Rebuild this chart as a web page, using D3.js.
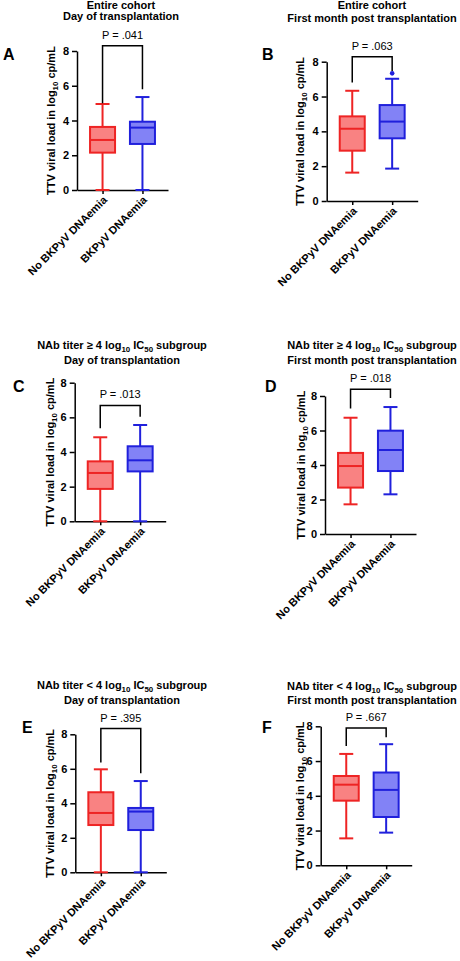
<!DOCTYPE html>
<html>
<head>
<meta charset="utf-8">
<script src="https://cdn.jsdelivr.net/npm/d3@7/dist/d3.min.js"></script>
<style>
    body { margin: 0; background: #fff; }
    svg text { font-family: "Liberation Sans", Arial, Helvetica, sans-serif; }
</style>
</head>
<body>
<div id="visDiv"></div>
<script>
    /* Data */
    const categories = ["No BKPyV DNAemia", "BKPyV DNAemia"];
    const yTicks = [0, 2, 4, 6, 8];
    const panelLetters = ["A", "B", "C", "D", "E", "F"];
    const titleLine1 = [
        "Entire cohort",
        "Entire cohort",
        "NAb titer ≥ 4 log_{10} IC_{50} subgroup",
        "NAb titer ≥ 4 log_{10} IC_{50} subgroup",
        "NAb titer < 4 log_{10} IC_{50} subgroup",
        "NAb titer < 4 log_{10} IC_{50} subgroup"
    ];
    const titleLine2 = [
        "Day of transplantation",
        "First month post transplantation",
        "Day of transplantation",
        "First month post transplantation",
        "Day of transplantation",
        "First month post transplantation"
    ];
    const yLabel = "TTV viral load in log_{10} cp/mL";
    const pValues = [".041", ".063", ".013", ".018", ".395", ".667"];
    // [min, q1, median, q3, max]
    const noBkStats = [
        [0, 2.15, 2.88, 3.63, 4.95],
        [1.63, 2.89, 4.15, 4.86, 6.33],
        [0, 1.87, 2.79, 3.46, 4.85],
        [1.72, 2.69, 3.94, 4.70, 6.74],
        [0, 2.74, 3.44, 4.64, 5.97],
        [1.55, 3.72, 4.64, 5.14, 6.41]
    ];
    const bkStats = [
        [0, 2.65, 3.59, 3.93, 5.35],
        [1.86, 3.60, 4.56, 5.51, 7.02],
        [0, 2.88, 3.52, 4.33, 5.56],
        [2.30, 3.65, 4.87, 5.99, 7.36],
        [0, 2.45, 3.52, 3.73, 5.29],
        [1.88, 2.78, 4.34, 5.34, 6.97]
    ];
    const bkOutliers = [[], [7.33], [], [], [], []];
    // bracket: [top, end over No BKPyV, end over BKPyV]
    const brackets = [
        [8.30, 5.00, 5.80],
        [8.29, 6.80, 7.46],
        [6.69, 5.37, 6.04],
        [8.39, 7.27, 7.88],
        [8.33, 6.36, 5.74],
        [7.90, 6.87, 7.37]
    ];

    /* Layout of each panel */
    const layout = [
        { ax: 77, top: 51, bottom: 190, tx: 121, t1: 9.3, t2: 19.5, lx: 3, ly: 60, yl: 55 },
        { ax: 326.7, top: 61.7, bottom: 201, tx: 372, t1: 9.3, t2: 21.7, lx: 262, ly: 60, yl: 303.5 },
        { ax: 74.7, top: 382.7, bottom: 521.3, tx: 122, t1: 349.3, t2: 364.3, lx: 13, ly: 392, yl: 54 },
        { ax: 325, top: 396, bottom: 534, tx: 372, t1: 349.3, t2: 364.3, lx: 265, ly: 392, yl: 305 },
        { ax: 75.3, top: 734.3, bottom: 872.3, tx: 122, t1: 689.3, t2: 704.3, lx: 22, ly: 733, yl: 54 },
        { ax: 320.7, top: 726.3, bottom: 865.3, tx: 372, t1: 690, t2: 704, lx: 262, ly: 733, yl: 303.5 }
    ];
    const xLen = 91, boxW = 25, capW = 14;
    const colors = [
        { stroke: "#ee2424", fill: "#f98282" },
        { stroke: "#2020dc", fill: "#8282f6" }
    ];

    var svg = d3.select("#visDiv").append("svg")
        .attr("width", 460)
        .attr("height", 961);

    // text with _{..} subscripts
    function richText(sel, str, size) {
        var parts = str.split(/_\{([^}]*)\}/);
        var shifted = false;
        parts.forEach(function (p, i) {
            if (p === "") return;
            var t = sel.append("tspan").text(p);
            if (i % 2 === 1) {
                t.attr("font-size", size * 0.72).attr("dy", 3);
                shifted = true;
            } else if (shifted) {
                t.attr("dy", -3);
                shifted = false;
            }
        });
    }

    layout.forEach(function (L, k) {
        var g = svg.append("g");
        var y = d3.scaleLinear().domain([0, 8]).range([L.bottom, L.top]);
        var x = d3.scalePoint().domain(categories).range([L.ax, L.ax + xLen]).padding(0.64);

        /* Titles */
        richText(g.append("text").attr("x", L.tx).attr("y", L.t1)
            .attr("text-anchor", "middle").attr("font-size", 11).attr("font-weight", "bold"), titleLine1[k], 11);
        g.append("text").attr("x", L.tx).attr("y", L.t2)
            .attr("text-anchor", "middle").attr("font-size", 11).attr("font-weight", "bold")
            .text(titleLine2[k]);
        g.append("text").attr("x", L.lx).attr("y", L.ly)
            .attr("font-size", 16).attr("font-weight", "bold")
            .text(panelLetters[k]);

        /* Axes */
        var yAxis = g.append("g")
            .attr("transform", "translate(" + L.ax + ",0)")
            .call(d3.axisLeft(y).tickValues(yTicks).tickSize(5).tickSizeOuter(0).tickPadding(3));
        var xAxis = g.append("g")
            .attr("transform", "translate(0," + L.bottom + ")")
            .call(d3.axisBottom(x).tickSize(4).tickSizeOuter(0));
        [yAxis, xAxis].forEach(function (a) {
            a.attr("font-family", null).attr("font-size", 11).attr("font-weight", "bold");
            a.selectAll("path, line").attr("stroke", "#000").attr("stroke-width", 1.5);
            a.selectAll("text").attr("fill", "#000");
        });
        xAxis.selectAll("text")
            .attr("x", 0).attr("y", 0).attr("dy", "0.35em")
            .attr("transform", "translate(2,8) rotate(-45)")
            .style("text-anchor", "end");

        richText(g.append("text")
            .attr("transform", "translate(" + L.yl + "," + ((L.top + L.bottom) / 2) + ") rotate(-90)")
            .attr("text-anchor", "middle").attr("font-size", 11).attr("font-weight", "bold"), yLabel, 11);

        /* Boxes */
        [noBkStats[k], bkStats[k]].forEach(function (s, j) {
            var cx = x(categories[j]);
            var c = colors[j];
            var bg = g.append("g").attr("stroke", c.stroke).attr("stroke-width", 2);
            bg.append("line").attr("x1", cx).attr("x2", cx).attr("y1", y(s[0])).attr("y2", y(s[1]));
            bg.append("line").attr("x1", cx).attr("x2", cx).attr("y1", y(s[3])).attr("y2", y(s[4]));
            [s[0], s[4]].forEach(function (v) {
                bg.append("line").attr("x1", cx - capW / 2).attr("x2", cx + capW / 2)
                    .attr("y1", y(v)).attr("y2", y(v));
            });
            bg.append("rect")
                .attr("x", cx - boxW / 2).attr("width", boxW)
                .attr("y", y(s[3])).attr("height", y(s[1]) - y(s[3]))
                .attr("fill", c.fill);
            bg.append("line").attr("x1", cx - boxW / 2).attr("x2", cx + boxW / 2)
                .attr("y1", y(s[2])).attr("y2", y(s[2]));
        });
        g.selectAll(".outlier")
            .data(bkOutliers[k])
            .enter().append("circle")
            .attr("class", "outlier")
            .attr("cx", x(categories[1]))
            .attr("cy", function (d) { return y(d); })
            .attr("r", 2.3)
            .attr("fill", colors[1].stroke);

        /* Significance bracket */
        var b = brackets[k];
        var x1 = x(categories[0]), x2 = x(categories[1]);
        g.append("path")
            .attr("d", d3.line()([[x1, y(b[1])], [x1, y(b[0])], [x2, y(b[0])], [x2, y(b[2])]]))
            .attr("fill", "none").attr("stroke", "#000").attr("stroke-width", 1.5);
        g.append("text")
            .attr("x", (x1 + x2) / 2).attr("y", y(b[0]) - 7)
            .attr("text-anchor", "middle").attr("font-size", 11)
            .text("P = " + pValues[k]);
    });
</script>
</body>
</html>
